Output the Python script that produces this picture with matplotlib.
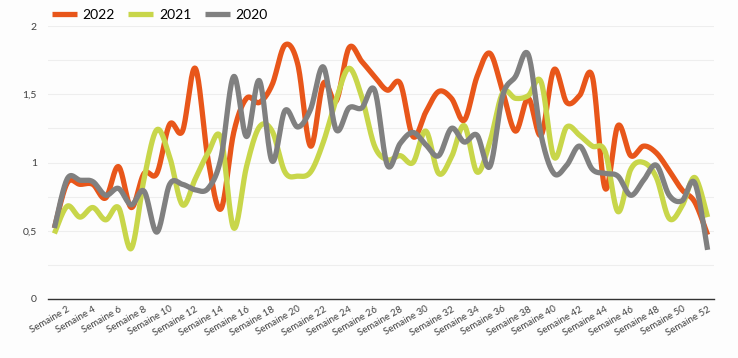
import matplotlib
matplotlib.use('Agg')
import matplotlib.pyplot as plt
import numpy as np

weeks = np.arange(1, 53)

s2022 = [0.52, 0.85, 0.84, 0.84, 0.74, 0.97, 0.67, 0.92, 0.92, 1.28,
         1.23, 1.69, 1.02, 0.66, 1.22, 1.47, 1.44, 1.57, 1.86, 1.72,
         1.12, 1.58, 1.45, 1.84, 1.74, 1.63, 1.53, 1.58, 1.19, 1.37,
         1.52, 1.47, 1.31, 1.63, 1.80, 1.52, 1.23, 1.47, 1.20, 1.68,
         1.44, 1.49, 1.63, 0.81, 1.27, 1.05, 1.12, 1.07, 0.94, 0.80,
         0.71, 0.47]

s2021 = [0.48, 0.68, 0.60, 0.67, 0.58, 0.67, 0.37, 0.88, 1.24, 1.04,
         0.69, 0.88, 1.07, 1.18, 0.52, 0.97, 1.26, 1.23, 0.93, 0.90,
         0.93, 1.15, 1.46, 1.69, 1.48, 1.12, 1.02, 1.05, 1.00, 1.23,
         0.92, 1.04, 1.27, 0.93, 1.15, 1.51, 1.47, 1.49, 1.59, 1.04,
         1.26, 1.20, 1.12, 1.08, 0.64, 0.95, 1.00, 0.89, 0.59, 0.68,
         0.89, 0.60]

s2020 = [0.52, 0.88, 0.87, 0.86, 0.76, 0.81, 0.69, 0.79, 0.49, 0.84,
         0.84, 0.80, 0.81, 1.03, 1.63, 1.19, 1.60, 1.01, 1.38, 1.26,
         1.39, 1.70, 1.24, 1.40, 1.40, 1.53, 0.98, 1.14, 1.22, 1.13,
         1.05, 1.25, 1.15, 1.20, 0.97, 1.49, 1.63, 1.79, 1.20, 0.92,
         0.98, 1.12, 0.95, 0.92, 0.90, 0.76, 0.87, 0.98, 0.76, 0.72,
         0.85, 0.36]

series = [('2022', s2022, '#E8561A'),
          ('2021', s2021, '#C8D64A'),
          ('2020', s2020, '#808080')]

tick_weeks = list(range(2, 53, 2))
tick_labels = ['Semaine %d' % w for w in tick_weeks]


def smooth(x, y, n=20):
    # Catmull-Rom curve through every point, like the spreadsheet smoothing
    x = np.asarray(x, float)
    y = np.asarray(y, float)
    px = np.concatenate([[x[0]], x, [x[-1]]])
    py = np.concatenate([[y[0]], y, [y[-1]]])
    t = np.linspace(0, 1, n, endpoint=False)
    xs, ys = [], []
    for i in range(1, len(px) - 2):
        for p, out in ((px, xs), (py, ys)):
            p0, p1, p2, p3 = p[i - 1], p[i], p[i + 1], p[i + 2]
            c1 = p1 + (p2 - p0) / 6
            c2 = p2 - (p3 - p1) / 6
            out.extend((1 - t) ** 3 * p1 + 3 * (1 - t) ** 2 * t * c1
                       + 3 * (1 - t) * t ** 2 * c2 + t ** 3 * p2)
    xs.append(x[-1])
    ys.append(y[-1])
    return np.array(xs), np.array(ys)


plt.rcParams['font.family'] = ['Lato', 'DejaVu Sans']

fig = plt.figure(figsize=(7.38, 3.58), dpi=100)
fig.patch.set_facecolor('#FDFDFD')
ax = fig.add_axes([48 / 738, 59 / 358, 666 / 738, 273 / 358])
ax.set_facecolor('#FDFDFD')

for name, vals, color in series:
    xs, ys = smooth(weeks, vals)
    ax.plot(xs, ys, color=color, linewidth=3.8, label=name,
            solid_capstyle='butt', solid_joinstyle='round')

ax.set_xlim(0.5, 52.5)
ax.set_ylim(0, 2)
ax.set_yticks([0, 0.5, 1, 1.5, 2])
ax.set_yticklabels(['0', '0,5', '1', '1,5', '2'], fontsize=7.5, color='#404040')
ax.set_yticks(np.arange(0, 2.01, 0.25), minor=True)
ax.grid(True, which='both', axis='y', color='#EEEEEE', linewidth=0.8)
ax.set_axisbelow(True)

ax.set_xticks(tick_weeks)
ax.set_xticklabels(tick_labels, rotation=30, ha='right', rotation_mode='anchor',
                   fontsize=7, color='#404040')
ax.tick_params(axis='both', which='both', length=0, pad=8)
ax.tick_params(axis='x', pad=4)

for side in ['top', 'right', 'left']:
    ax.spines[side].set_visible(False)
ax.spines['bottom'].set_color('#333333')
ax.spines['bottom'].set_linewidth(1.0)

fig.legend(loc='upper left', bbox_to_anchor=(39 / 738, 1.01), ncol=3,
           frameon=False, fontsize=10, handlelength=1.8, handletextpad=0.4,
           columnspacing=1.0)

fig.savefig('out.png', dpi=100, facecolor=fig.get_facecolor())
